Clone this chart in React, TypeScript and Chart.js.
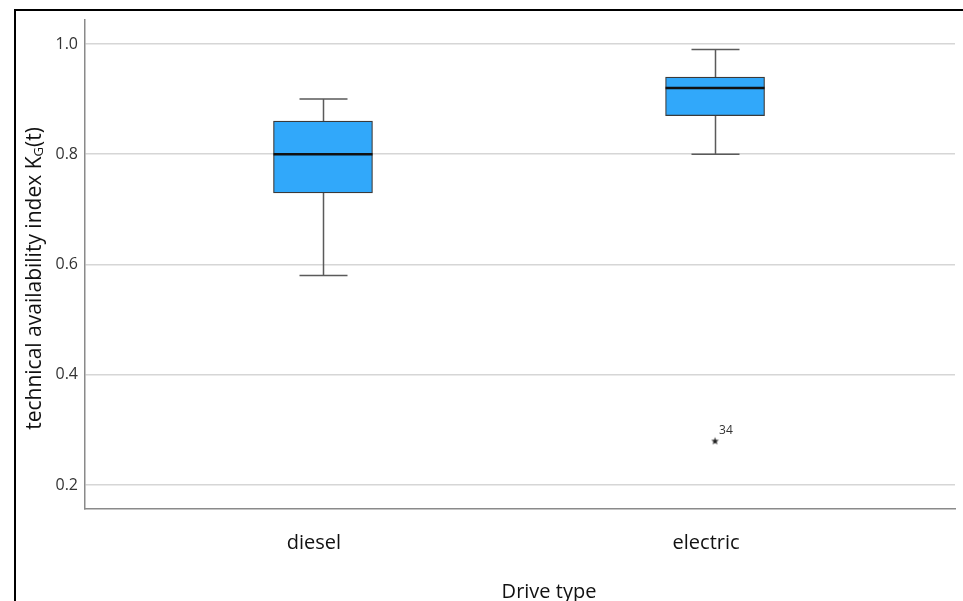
import React, { useEffect, useRef } from "react";
import { Chart, registerables } from "chart.js";

Chart.register(...registerables);

const categories = ["diesel", "electric"];
const whiskerLow = [0.58, 0.8];
const q1 = [0.73, 0.87];
const medians = [0.8, 0.92];
const q3 = [0.86, 0.94];
const whiskerHigh = [0.9, 0.99];
const outlierCategory = [1];
const outlierValues = [0.28];
const outlierLabels = ["34"];
const yTicks = [0.2, 0.4, 0.6, 0.8, 1.0];
const xTitle = "Drive type";

function makeStar(): HTMLCanvasElement {
  const c = document.createElement("canvas");
  c.width = 9;
  c.height = 9;
  const g = c.getContext("2d")!;
  g.fillStyle = "#222";
  g.beginPath();
  const cx = 4.5, cy = 4.8, R = 4, r = 1.7;
  for (let i = 0; i < 10; i++) {
    const a = -Math.PI / 2 + (i * Math.PI) / 5;
    const rad = i % 2 === 0 ? R : r;
    const px = cx + rad * Math.cos(a);
    const py = cy + rad * Math.sin(a);
    if (i === 0) g.moveTo(px, py);
    else g.lineTo(px, py);
  }
  g.closePath();
  g.fill();
  return c;
}

const boxPlugin = {
  id: "boxExtras",
  beforeDatasetsDraw(chart: any) {
    const { ctx, scales } = chart;
    const xs = scales.x, ys = scales.y;
    ctx.save();
    ctx.strokeStyle = "#5a5a5a";
    ctx.lineWidth = 1.5;
    categories.forEach((_, i) => {
      const x = Math.round(xs.getPixelForValue(i)) + 0.5;
      const yHi = ys.getPixelForValue(whiskerHigh[i]);
      const yQ3 = ys.getPixelForValue(q3[i]);
      const yLo = ys.getPixelForValue(whiskerLow[i]);
      const yQ1 = ys.getPixelForValue(q1[i]);
      const cap = 24;
      ctx.beginPath();
      ctx.moveTo(x, yHi);
      ctx.lineTo(x, yQ3);
      ctx.moveTo(x - cap, yHi);
      ctx.lineTo(x + cap, yHi);
      ctx.moveTo(x, yQ1);
      ctx.lineTo(x, yLo);
      ctx.moveTo(x - cap, yLo);
      ctx.lineTo(x + cap, yLo);
      ctx.stroke();
    });
    ctx.restore();
  },
  afterDatasetsDraw(chart: any) {
    const { ctx, scales, chartArea } = chart;
    const xs = scales.x, ys = scales.y;
    const meta = chart.getDatasetMeta(0);
    ctx.save();
    ctx.strokeStyle = "#111";
    ctx.lineWidth = 2.5;
    categories.forEach((_, i) => {
      const bar = meta.data[i];
      const half = bar.width / 2;
      const x = xs.getPixelForValue(i);
      const y = ys.getPixelForValue(medians[i]);
      ctx.beginPath();
      ctx.moveTo(x - half, y);
      ctx.lineTo(x + half, y);
      ctx.stroke();
    });
    // outlier labels
    const om = chart.getDatasetMeta(1);
    ctx.fillStyle = "#333";
    ctx.font = "12px 'Open Sans'";
    ctx.textAlign = "left";
    ctx.textBaseline = "middle";
    outlierLabels.forEach((lab, i) => {
      const p = om.data[i];
      ctx.fillText(lab, p.x + 4, p.y - 10);
    });
    // x axis title
    ctx.fillStyle = "#111";
    ctx.font = "20px 'Open Sans'";
    ctx.textAlign = "center";
    ctx.textBaseline = "alphabetic";
    ctx.fillText(xTitle, (chartArea.left + chartArea.right) / 2 + 29, chart.height - 3);
    // y axis title with subscript
    const cx = 35;
    const cy = (chartArea.top + chartArea.bottom) / 2 + 14;
    ctx.translate(cx, cy);
    ctx.rotate(-Math.PI / 2);
    ctx.textAlign = "left";
    ctx.textBaseline = "middle";
    const mainFont = "21px 'Open Sans'";
    const subFont = "13px 'Open Sans'";
    const p1 = "technical availability index K";
    const p2 = "G";
    const p3 = "(t)";
    ctx.font = mainFont;
    const w1 = ctx.measureText(p1).width;
    const w3 = ctx.measureText(p3).width;
    ctx.font = subFont;
    const w2 = ctx.measureText(p2).width;
    const total = w1 + w2 + w3;
    let sx = -total / 2;
    ctx.font = mainFont;
    ctx.fillText(p1, sx, 0);
    sx += w1;
    ctx.font = subFont;
    ctx.fillText(p2, sx, 4);
    sx += w2;
    ctx.font = mainFont;
    ctx.fillText(p3, sx, 0);
    ctx.restore();
  },
};

export default function App() {
  const ref = useRef<HTMLCanvasElement | null>(null);
  useEffect(() => {
    document.body.style.margin = "0";
    const star = makeStar();
    const chart = new Chart(ref.current!, {
      type: "bar",
      data: {
        datasets: [
          {
            type: "bar",
            data: categories.map((_, i) => ({ x: i, y: [q1[i], q3[i]] })) as any,
            backgroundColor: "#31A8FA",
            borderColor: "#3a3a3a",
            borderWidth: 1.2,
            borderSkipped: false,
            barThickness: 99,
          },
          {
            type: "scatter",
            data: outlierValues.map((v, i) => ({ x: outlierCategory[i], y: v })),
            pointStyle: star as any,
            radius: 4,
          } as any,
        ],
      },
      options: {
        animation: false,
        responsive: false,
        maintainAspectRatio: false,
        layout: { padding: { left: 0, right: 8, top: 20, bottom: 0 } },
        plugins: { legend: { display: false }, tooltip: { enabled: false } },
        scales: {
          x: {
            type: "linear",
            min: -0.607,
            max: 1.612,
            offset: false,
            grid: { display: false, drawTicks: false },
            border: { display: true, color: "#8a8a8a", width: 1.5 },
            afterBuildTicks: (s: any) => {
              s.ticks = categories.map((_, i) => ({ value: i }));
            },
            afterFit: (s: any) => {
              s.height = 92;
            },
            ticks: {
              callback: (v: any) => categories[v] ?? "",
              color: "#111",
              font: { family: "'Open Sans'", size: 20 },
              padding: 22,
              labelOffset: -9,
              maxRotation: 0,
              autoSkip: false,
            },
            title: { display: false },
          },
          y: {
            min: 0.1565,
            max: 1.0435,
            afterBuildTicks: (s: any) => {
              s.ticks = yTicks.map((v) => ({ value: v }));
            },
            afterFit: (s: any) => {
              s.width = 85;
            },
            grid: { color: "#d6d6d6", lineWidth: 1.5, drawTicks: false },
            border: { display: true, color: "#8a8a8a", width: 1.5 },
            ticks: {
              callback: (v: any) => Number(v).toFixed(1),
              color: "#333",
              font: { family: "'Open Sans'", size: 16 },
              padding: 7,
            },
          },
        },
      },
      plugins: [boxPlugin],
    } as any);
    return () => chart.destroy();
  }, []);
  return (
    <div style={{ position: "relative", width: 963, height: 601, overflow: "hidden", background: "#fff" }}>
      <canvas ref={ref} width={963} height={601} style={{ position: "absolute", left: 0, top: 0 }} />
      <div
        style={{
          position: "absolute",
          left: 14,
          top: 9,
          width: 1000,
          height: 700,
          borderTop: "2px solid #000",
          borderLeft: "2px solid #000",
          pointerEvents: "none",
        }}
      />
    </div>
  );
}
